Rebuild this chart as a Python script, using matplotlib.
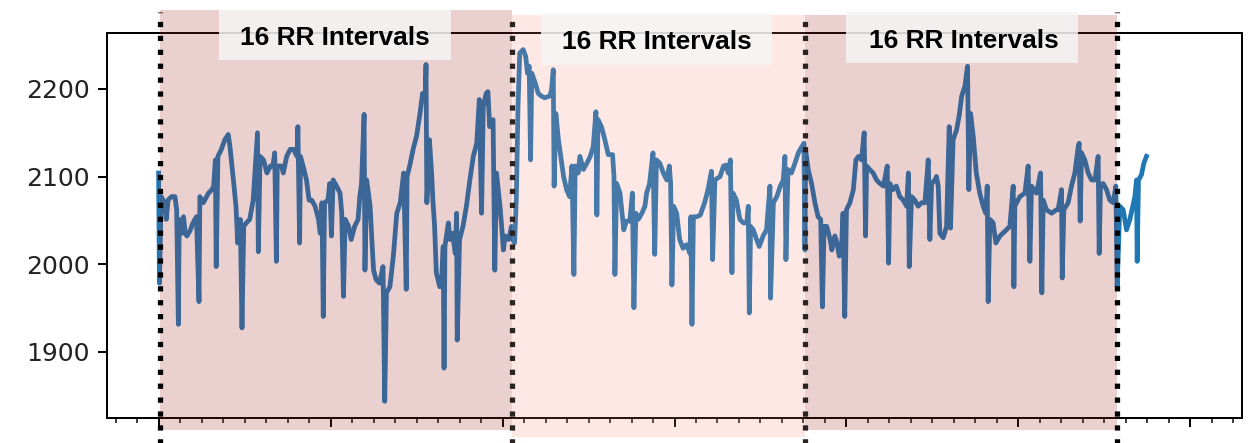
import matplotlib
matplotlib.use("Agg")
import matplotlib.pyplot as plt
from matplotlib.patches import Rectangle
from matplotlib.ticker import MultipleLocator, NullFormatter

# RR signal (sample index, value)
sig_x = [0, 1, 3, 7, 9, 11, 15, 19, 21, 23, 24, 27, 29, 31, 33, 37, 40, 44, 47, 48,
         52, 58, 62, 64, 66, 67, 69, 73, 77, 81, 83, 87, 90, 92, 95, 97, 99, 102, 106, 110,
         112, 115, 116, 118, 122, 126, 130, 133, 135, 137, 138, 143, 145, 149, 153, 157, 161, 162, 164, 165,
         168, 172, 175, 178, 182, 186, 188, 190, 191.5, 193, 197, 199, 201, 203, 207, 211, 213, 215, 217, 221,
         224, 228, 232, 234, 236, 239, 240, 242, 246, 248, 250, 253, 257, 261, 263, 265, 269, 273, 277, 281,
         284, 285, 288, 289, 292, 296, 300, 304, 307, 310, 311, 312, 315, 317.5, 319, 321, 323, 327, 329, 331,
         332, 333, 337, 339, 342, 345, 346.6, 347.3, 350, 354, 358, 362, 366, 370, 373, 375.6, 377.6, 381, 383,
         385, 389, 391, 393, 397, 399, 401, 403, 407, 410.5, 412, 414, 416, 418, 420, 424, 427, 429, 431, 432.6,
         434, 438, 441.5, 445, 449, 455, 457, 459, 460, 462, 465, 471, 474.5, 478, 480.7, 483, 484.5, 488, 490, 494,
         498, 502, 505.5, 508.6, 509.7, 511, 515, 519, 523, 528, 529.6, 530.7, 532.7, 536.6, 539.7, 541, 544, 548, 551,
         552.8, 555, 558, 562, 565.6, 567.6, 571, 575, 577, 579, 583, 587, 591, 594, 595.5, 597, 599, 602.5, 606, 610,
         614, 618, 619, 620.3, 622, 626, 630, 635, 639, 643, 644.3, 647, 653, 657, 660, 662.5, 665, 666.8, 668, 672,
         676, 680, 684, 685.8, 687, 688.5, 691.6, 695.5, 698.6, 703, 707, 711, 711.7, 715, 719, 723, 726.5, 728.4, 729.6, 732,
         736, 740, 744, 748, 750.5, 751.7, 752.5, 755.5, 759.4, 763.3, 767, 770, 772, 774, 777, 781, 783, 786.5, 789, 791.6,
         794, 796, 798, 800, 804, 808, 811, 814, 817.5, 820.6, 822.2, 823.4, 827, 831, 835, 839, 843, 847.4, 849, 850.5,
         854, 858, 862, 866, 870, 872, 873, 875.7, 879.5, 883.4, 887.3, 891.2, 895.1, 897, 899, 903, 904.7, 906.7, 908.6, 912.5,
         916.4, 919.5, 921, 924, 928, 931, 934, 937.7, 940.8, 942.3, 944.3, 947.4, 951, 955, 959, 962, 963.7, 964.8, 966.8, 970.6,
         973.7, 978.4, 986, 990, 993.9, 994.7, 995.8, 1001.6, 1007.5, 1011.3, 1013.3, 1015.2, 1021, 1025.7, 1027.2, 1028.8, 1032.6, 1038.5, 1044.3, 1046.2,
         1050.1, 1050.9, 1052.8, 1057.8, 1061.7, 1065.6, 1069.5, 1070.6, 1071.8, 1073.4, 1077.2, 1081.1, 1085, 1089, 1092.7, 1093.9, 1095.4, 1098.5, 1102.4, 1106.3,
         1110.2, 1113.3, 1114.8, 1117.9, 1121.8, 1125.7, 1129.6, 1135.4, 1137.3, 1138.1, 1139.6, 1143.1, 1145.8, 1148.9]
sig_y = [2104, 1978, 2077, 2070, 2051, 2073, 2077, 2077, 2062, 1931, 2051, 2035, 2054, 2035, 2032, 2039, 2047, 2054, 1957, 2077,
         2070, 2081, 2085, 2089, 2119, 1997, 2123, 2131, 2142, 2148, 2134, 2096, 2066, 2024, 2051, 1927, 2043, 2047, 2051, 2073,
         2104, 2150, 2014, 2123, 2119, 2104, 2112, 2112, 2127, 2003, 2112, 2112, 2104, 2123, 2131, 2131, 2123, 2157, 2024, 2123,
         2112, 2096, 2073, 2073, 2066, 2051, 2035, 2070, 1940, 2070, 2073, 2092, 2032, 2096, 2089, 2081, 2058, 1963, 2051, 2043,
         2028, 2043, 2051, 2077, 2092, 2171, 1993, 2096, 2066, 2028, 1993, 1982, 1978, 1997, 1843, 1967, 1974, 2009, 2058, 2070,
         2096, 2104, 1971, 2100, 2112, 2131, 2146, 2172, 2195, 2188, 2228, 2070, 2142, 2104, 2073, 2043, 1990, 1974, 1978, 2020,
         1881, 2020, 2047, 2028, 2035, 2012, 2058, 1913, 2028, 2043, 2066, 2096, 2123, 2138, 2188, 2058, 2180, 2195, 2197,
         2157, 2165, 1993, 2104, 2066, 2043, 2016, 2032, 2028, 2043, 2028, 2024, 2073, 2180, 2241, 2245, 2237, 2218, 2226, 2119,
         2218, 2207, 2195, 2192, 2190, 2192, 2199, 2222, 2089, 2172, 2142, 2100, 2085, 2077, 2112, 1988, 2112, 2104, 2123, 2108,
         2115, 2123, 2134, 2174, 2056, 2165, 2157, 2142, 2125, 2125, 2100, 1988, 2092, 2081, 2051, 2039, 2049, 2049, 2081,
         1950, 2058, 2051, 2058, 2066, 2081, 2092, 2127, 2011, 2119, 2115, 2104, 2096, 2112, 2092, 1976, 2066, 2058, 2028, 2018,
         2022, 2012, 2054, 1931, 2054, 2054, 2056, 2070, 2085, 2106, 2005, 2096, 2100, 2112, 2113, 2104, 2119, 1990, 2081, 2073,
         2051, 2047, 2047, 2066, 1944, 2043, 2039, 2028, 2020, 2032, 2039, 2089, 1961, 2070, 2077, 2089, 2096, 2123, 2005, 2108,
         2104, 2115, 2127, 2134, 2138, 2016, 2130, 2108, 2092, 2070, 2054, 2051, 1951, 2043, 2043, 2028, 2016, 2032, 2024, 2009,
         2012, 2058, 1940, 2062, 2070, 2085, 2119, 2123, 2119, 2150, 2032, 2112, 2108, 2104, 2096, 2092, 2089, 2112, 2001, 2092,
         2085, 2089, 2077, 2073, 2066, 2104, 1997, 2077, 2073, 2066, 2070, 2070, 2119, 2028, 2092, 2096, 2100, 2089, 2035, 2030,
         2043, 2157, 2041, 2142, 2153, 2169, 2192, 2203, 2226, 2085, 2172, 2146, 2104, 2081, 2066, 2058, 2089, 1957, 2051, 2047,
         2024, 2032, 2039, 2043, 2089, 1974, 2066, 2077, 2081, 2112, 2003, 2089, 2081, 2104, 1967, 2073, 2062, 2058, 2062, 2062,
         2085, 1984, 2062, 2070, 2089, 2104, 2134, 2138, 2049, 2127, 2119, 2104, 2096, 2096, 2123, 2012, 2089, 2092, 2085, 2073,
         2070, 2089, 1974, 2066, 2062, 2039, 2051, 2077, 2096, 2003, 2096, 2102, 2115, 2123]

# segment boundaries (in samples) and labels
seg_edges = [2, 411, 752, 1115]
seg_labels = ["16 RR Intervals", "16 RR Intervals", "16 RR Intervals"]
seg_colors = ["brown", "salmon", "brown"]
seg_alpha = [0.22, 0.18, 0.22]
yticks = [1900, 2000, 2100, 2200]

fig = plt.figure(figsize=(1248 / 180, 443 / 180), dpi=180)
ax = fig.add_axes([107 / 1248, 25 / 443, 1135 / 1248, 385 / 443])

ax.plot(sig_x, sig_y, color="C0", lw=1.9, zorder=2)
ax.set_xlim(-60, 1260)
ax.set_ylim(1824, 2264)
ax.set_yticks(yticks)
ax.tick_params(axis="y", labelcolor="#222222")
ax.xaxis.set_major_locator(MultipleLocator(200))
ax.xaxis.set_minor_locator(MultipleLocator(25))
ax.xaxis.set_major_formatter(NullFormatter())

trans = ax.get_xaxis_transform()

# shaded windows (overlay drawn past the axes like the pasted boxes)
span_y = [(-0.031, 1.060), (-0.049, 1.047), (-0.031, 1.047)]
for i in range(3):
    lo, hi = span_y[i]
    ax.axvspan(seg_edges[i], seg_edges[i + 1], lo, hi, color=seg_colors[i],
               alpha=seg_alpha[i], lw=0, zorder=3, clip_on=False)

# dotted separators
line_top = [1.0545, 1.052, 1.047, 1.0545]
line_col = ["black", "#2b2222", "#2b2222", "black"]
for i, xe in enumerate(seg_edges):
    ax.axvline(xe, ymin=-0.07, ymax=line_top[i], ls=":", lw=2.1,
               color=line_col[i], zorder=4, clip_on=False)

# label boxes
box_x = [(70, 340), (445, 713), (800, 1069)]
box_y = [(0.930, 1.060), (0.917, 1.052), (0.922, 1.0545)]
txt_x = [205, 580, 936]
txt_y = [0.969, 0.958, 0.961]
for i in range(3):
    x0, x1 = box_x[i]
    y0, y1 = box_y[i]
    ax.add_patch(Rectangle((x0, y0), x1 - x0, y1 - y0, transform=trans,
                           facecolor="whitesmoke", alpha=0.85, lw=0,
                           zorder=5, clip_on=False))
    ax.text(txt_x[i], txt_y[i], seg_labels[i], transform=trans, ha="center",
            va="baseline", fontsize=10.5, fontweight="bold",
            family="Liberation Sans", zorder=6, clip_on=False)

fig.savefig("out.png", dpi=180)
